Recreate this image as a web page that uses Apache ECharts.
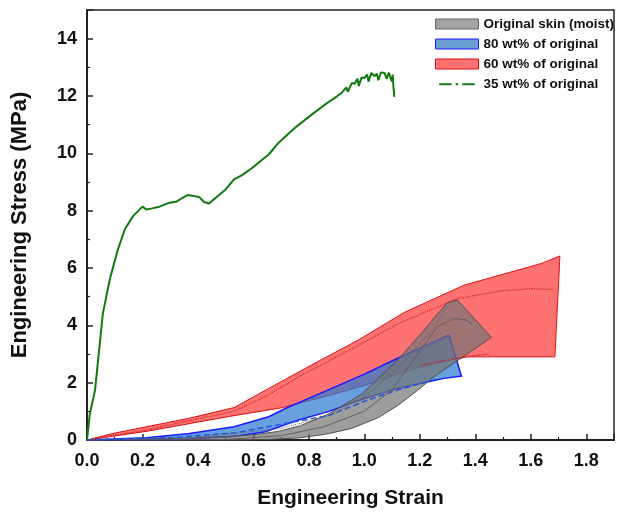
<!DOCTYPE html>
<html>
<head>
<meta charset="utf-8">
<script src="https://cdn.jsdelivr.net/npm/echarts@6/dist/echarts.min.js"></script>
<style>
  html, body { margin: 0; padding: 0; background: #fff; }
  #chart { width: 617px; height: 514px; }
</style>
</head>
<body>
<div id="chart"></div>
<script>
// 图例名称
const legendNames = ['Original skin (moist)', '80 wt% of original', '60 wt% of original', '35 wt% of original'];

// 35 wt%: 单条曲线 [应变, 应力 MPa]
const green35 = [
    [0, 0], [0.01, 0.9], [0.029, 1.74], [0.057, 4.4], [0.082, 5.6], [0.11, 6.6], [0.136, 7.34],
    [0.166, 7.81], [0.2, 8.14], [0.214, 8.04], [0.235, 8.08], [0.261, 8.14], [0.297, 8.28],
    [0.321, 8.31], [0.345, 8.45], [0.363, 8.55], [0.404, 8.48], [0.422, 8.30], [0.44, 8.25],
    [0.464, 8.45], [0.5, 8.74], [0.53, 9.09], [0.559, 9.24], [0.595, 9.49], [0.655, 9.96],
    [0.691, 10.37], [0.75, 10.89], [0.81, 11.35], [0.858, 11.70], [0.88, 11.85], [0.9, 11.98],
    [0.918, 12.11], [0.935, 12.3], [0.94, 12.15], [0.955, 12.45], [0.965, 12.43], [0.975, 12.6],
    [0.98, 12.35], [0.99, 12.65], [1.001, 12.63], [1.01, 12.75], [1.015, 12.5], [1.025, 12.8],
    [1.037, 12.69], [1.045, 12.78], [1.05, 12.55], [1.06, 12.82], [1.073, 12.80], [1.08, 12.6],
    [1.088, 12.82], [1.095, 12.6], [1.1, 12.5], [1.102, 12.75], [1.105, 12.3], [1.108, 11.97]
];

// 60 wt%: 上下包络 + 平均线
const redUpper = [[0, 0], [0.094, 0.23], [0.369, 0.76], [0.53, 1.13], [0.667, 1.86], [0.81, 2.62],
    [0.977, 3.48], [1.144, 4.45], [1.359, 5.40], [1.639, 6.16], [1.705, 6.42]];
const redLower = [[0, 0], [0.213, 0.30], [0.53, 0.85], [0.70, 1.12], [0.87, 1.55], [1.0, 1.9],
    [1.15, 2.4], [1.29, 2.75], [1.371, 2.9], [1.687, 2.9]];
const redMean = [[0, 0], [0.2, 0.33], [0.53, 1.0], [0.65, 1.55], [0.762, 2.2], [0.95, 3.15],
    [1.12, 4.05], [1.335, 4.93], [1.49, 5.2], [1.6, 5.28], [1.675, 5.25]];
const redLow2 = [[1.2, 2.6], [1.371, 2.92], [1.449, 3.0]];

// 80 wt%
const blueUpper = [[0, 0], [0.213, 0.08], [0.369, 0.23], [0.53, 0.46], [0.655, 0.81], [0.715, 1.10],
    [0.87, 1.75], [1.0, 2.3], [1.12, 2.85], [1.305, 3.66]];
const blueLower = [[0, 0], [0.333, 0.02], [0.53, 0.12], [0.643, 0.29], [0.762, 0.7], [0.87, 0.99],
    [1.0, 1.45], [1.12, 1.8], [1.287, 2.15], [1.35, 2.23]];
const blueMean = [[0, 0], [0.3, 0.08], [0.535, 0.25], [0.7, 0.55], [0.87, 0.85], [1.0, 1.35],
    [1.12, 1.75], [1.27, 2.15]];

// 原始皮肤 (湿润)
const grayUpper = [[0, 0], [0.4, 0.08], [0.6, 0.18], [0.69, 0.3], [0.77, 0.5], [0.87, 0.9],
    [0.99, 1.6], [1.12, 2.79], [1.215, 3.83], [1.299, 4.8], [1.335, 4.88], [1.458, 3.58]];
const grayLower = [[0, 0], [0.5, 0.0], [0.65, 0.02], [0.762, 0.07], [0.86, 0.2], [0.953, 0.4],
    [1.05, 0.78], [1.12, 1.2], [1.19, 1.72], [1.25, 2.2], [1.458, 3.58]];
const grayMean = [[0.5, 0.02], [0.7, 0.15], [0.85, 0.45], [1.0, 1.0], [1.1, 1.75], [1.192, 3.0],
    [1.263, 3.95], [1.323, 4.24], [1.37, 4.18], [1.39, 4.0]];
const grayDot = [[0.4, 0.1], [0.7, 0.4], [0.87, 0.85], [1.0, 1.5], [1.12, 2.5], [1.25, 3.9], [1.3, 4.7]];

// 上包络 + 反向下包络 => 多边形
function band(upper, lower) {
    return upper.concat(lower.slice().reverse());
}

function polygonSeries(name, pts, fill, stroke, lw) {
    return {
        name: name,
        type: 'custom',
        coordinateSystem: 'cartesian2d',
        itemStyle: { color: fill, borderColor: stroke },
        data: pts,
        z: 2,
        renderItem: function (params, api) {
            if (params.dataIndex !== 0) return null;
            const points = pts.map(p => api.coord(p));
            return {
                type: 'polygon',
                shape: { points: points },
                style: { fill: fill, stroke: stroke, lineWidth: lw }
            };
        }
    };
}

function lineSeries(name, pts, color, type, width) {
    return {
        name: name,
        type: 'line',
        data: pts,
        showSymbol: false,
        silent: true,
        z: 3,
        lineStyle: { color: color, width: width, type: type }
    };
}

const chart = echarts.init(document.getElementById('chart'));
const font = 'Arial, "Liberation Sans", sans-serif';

const option = {
    backgroundColor: '#fff',
    animation: false,
    textStyle: { fontFamily: font },
    grid: { left: 87, right: 0, top: 10, bottom: 74, show: true, borderColor: '#222', borderWidth: 1.5 },
    legend: {
        orient: 'vertical',
        left: 430,
        top: 12,
        itemWidth: 43,
        itemHeight: 10,
        itemGap: 6,
        textStyle: { fontFamily: font, fontSize: 13.5, fontWeight: 'bold', color: '#111' },
        data: [
            { name: legendNames[0], icon: 'rect', itemStyle: { color: '#a3a3a3', borderColor: '#666', borderWidth: 1 } },
            { name: legendNames[1], icon: 'rect', itemStyle: { color: '#6a9fd4', borderColor: '#1a1aff', borderWidth: 1 } },
            { name: legendNames[2], icon: 'rect', itemStyle: { color: '#ff7070', borderColor: '#e01010', borderWidth: 1 } },
            { name: legendNames[3], icon: 'path://M0,0h0.1v0.1h-0.1z M0,5h15v2.5h-15z M20,5h3v2.5h-3z M28,5h15v2.5h-15z M43,12h0.1v0.1h-0.1z',
              itemStyle: { color: '#107a10' } }
        ]
    },
    xAxis: {
        type: 'value',
        min: 0, max: 1.9, interval: 0.2,
        name: 'Engineering Strain',
        nameLocation: 'middle',
        nameGap: 48,
        nameTextStyle: { fontSize: 21, fontWeight: 'bold', color: '#111', fontFamily: font },
        axisLine: { lineStyle: { color: '#222', width: 2 } },
        axisTick: { inside: true, length: 6, lineStyle: { color: '#222', width: 1.5 } },
        minorTick: { show: true, splitNumber: 2, length: 3, lineStyle: { color: '#222', width: 1.2 } },
        splitLine: { show: false },
        axisLabel: {
            fontSize: 18, fontWeight: 'bold', color: '#111', margin: 12,
            formatter: v => (v > 1.85 ? '' : v.toFixed(1))
        }
    },
    yAxis: {
        type: 'value',
        min: 0, max: 15, interval: 2,
        name: 'Engineering Stress (MPa)',
        nameLocation: 'middle',
        nameGap: 56,
        nameTextStyle: { fontSize: 22, fontWeight: 'bold', color: '#111', fontFamily: font },
        axisLine: { lineStyle: { color: '#222', width: 2 } },
        axisTick: { inside: true, length: 6, lineStyle: { color: '#222', width: 1.5 } },
        minorTick: { show: true, splitNumber: 2, length: 3, lineStyle: { color: '#222', width: 1.2 } },
        splitLine: { show: false },
        axisLabel: {
            fontSize: 18, fontWeight: 'bold', color: '#111', margin: 10,
            formatter: v => (v > 14.5 ? '' : String(v))
        }
    },
    series: [
        polygonSeries(legendNames[2], band(redUpper, redLower), 'rgba(255,20,20,0.6)', '#e01010', 1),
        lineSeries('redMean', redMean, '#c22', 'dotted', 1.2),
        lineSeries('redLow2', redLow2, '#c22', 'dotted', 1.2),
        polygonSeries(legendNames[1], band(blueUpper, blueLower), 'rgba(40,120,210,0.7)', '#1a1aff', 1.5),
        lineSeries('blueMean', blueMean, '#2255dd', 'dashed', 1.5),
        polygonSeries(legendNames[0], band(grayUpper, grayLower), 'rgba(115,115,115,0.7)', '#505050', 1),
        lineSeries('grayMean', grayMean, '#606060', 'solid', 1),
        lineSeries('grayDot', grayDot, '#606060', 'dotted', 1),
        {
            name: legendNames[3],
            type: 'line',
            data: green35,
            showSymbol: false,
            z: 4,
            lineStyle: { color: '#107a10', width: 2 }
        }
    ]
};

chart.setOption(option);
</script>
</body>
</html>
